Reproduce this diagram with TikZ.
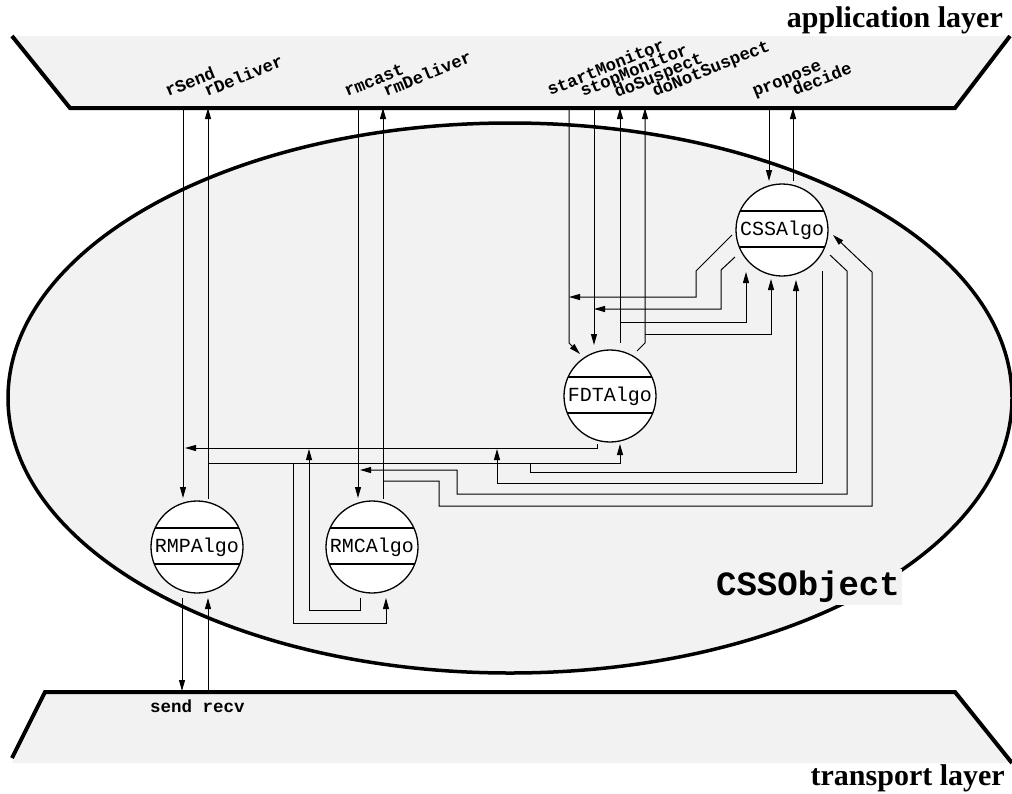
\documentclass[tikz,border=0pt]{standalone}
\usepackage{fontspec}
\newfontfamily\monof{Liberation Mono}
\newfontfamily\seriff{Liberation Serif}
\usetikzlibrary{arrows.meta,calc}
\definecolor{layergray}{RGB}{242,242,242}
\begin{document}
\begin{tikzpicture}[x=1pt,y=-1pt,
  conn/.style={line width=1pt,black},
  arr/.style={conn,-{Triangle[length=11pt,width=6pt]}},
  layer/.style={line width=4pt, line join=miter},
  algo/.style={circle, draw, line width=1.3pt, fill=white, minimum size=92pt, inner sep=0pt,
    font=\monof\fontsize{20}{24}\selectfont,
    path picture={
      \draw[line width=1.2pt] ([yshift=19pt]path picture bounding box.west) -- ([yshift=19pt]path picture bounding box.east);
      \draw[line width=1.2pt] ([yshift=-17pt]path picture bounding box.west) -- ([yshift=-17pt]path picture bounding box.east);}},
  lbl/.style={font=\monof\bfseries\fontsize{17.3}{19}\selectfont, inner sep=0pt, rotate=22, anchor=base west},
  title/.style={font=\seriff\bfseries\fontsize{30}{34}\selectfont, inner sep=0pt, anchor=base east}]
\useasboundingbox (0,0) rectangle (1012,793);

% layers
\fill[layergray] (12,36) -- (1010,36) -- (955,108) -- (70,108) -- cycle;
\draw[layer] (12,36) -- (70,108) -- (955,108) -- (1010,36);
\fill[layergray] (45,692) -- (955,692) -- (1012,763) -- (12,763) -- cycle;
\draw[layer] (12,758) -- (45,692) -- (955,692) -- (1012,763);
\node[title] (app) at (1003,27) {application layer};
\node[title] (trans) at (1005,785) {transport layer};

% object
\draw[line width=3.5pt, fill=layergray] (510,398) ellipse [x radius=502pt, y radius=275pt];
\node[fill=layergray, font=\monof\bfseries\fontsize{34}{40}\selectfont, inner sep=2pt] (cssobj) at (808,587) {CSSObject};

% algorithms
\node[algo] (css) at (782,230) {CSSAlgo};
\node[algo] (fdt) at (610,396) {FDTAlgo};
\node[algo] (rmp) at (197,547) {RMPAlgo};
\node[algo] (rmc) at (372,547) {RMCAlgo};

% interface points
\coordinate (uRsend) at (183,108);
\coordinate (uRdeliver) at (208,108);
\coordinate (uRmcast) at (358,108);
\coordinate (uRmdeliver) at (383,108);
\coordinate (uStart) at (569,108);
\coordinate (uStop) at (594,108);
\coordinate (uDoS) at (620,108);
\coordinate (uDoNot) at (645,108);
\coordinate (uPropose) at (769,108);
\coordinate (uDecide) at (793,108);
\coordinate (lSend) at (182,691);
\coordinate (lRecv) at (208,693);

% labels
\node[lbl] (tRsend) at (168,97) {rSend};
\node[lbl] (tRdeliver) at (207,97) {rDeliver};
\node[lbl] (tRmcast) at (347,97) {rmcast};
\node[lbl] (tRmdeliver) at (386,97) {rmDeliver};
\node[lbl] (tStart) at (550,96) {startMonitor};
\node[lbl] (tStop) at (583,97) {stopMonitor};
\node[lbl] (tDoS) at (617,98) {doSuspect};
\node[lbl] (tDoNot) at (655,97) {doNotSuspect};
\node[lbl] (tPropose) at (755,97) {propose};
\node[lbl] (tDecide) at (795,96) {decide};
\node[font=\monof\bfseries\fontsize{17.5}{20}\selectfont, inner sep=0pt, anchor=base west] (tSendRecv) at (150,712) {send recv};

% application layer <-> algorithms
\draw[arr] (uRsend) -- ($(rmp)+(-14,-49)$);
\draw[arr] ($(rmp)+(11,-48)$) -- (uRdeliver);
\draw[arr] (uRmcast) -- ($(rmc)+(-14,-49)$);
\draw[arr] ($(rmc)+(11,-48)$) -- (uRmdeliver);
\draw[arr] (uStart) -- ($(fdt)+(-41,-53)$) -- ($(fdt)+(-30,-42)$);
\draw[arr] (uStop) -- ($(fdt)+(-16,-51)$);
\draw[arr] ($(fdt)+(10,-53)$) -- (uDoS);
\draw[arr] ($(fdt)+(27,-45)$) -- ($(fdt)+(35,-53)$) -- (uDoNot);
\draw[arr] (uPropose) -- ($(css)+(-13,-49)$);
\draw[arr] ($(css)+(11,-49)$) -- (uDecide);

% CSSAlgo <-> failure detector interface
\draw[arr] ($(css)+(-50,5)$) -- (696,271) -- (696,297) -- (569,297);
\draw[arr] ($(css)+(-47,27)$) -- (721,270) -- (721,309) -- (594,309);
\draw[arr] (620,322) -- (746,322) -- ($(css)+(-36,42)$);
\draw[arr] (645,334) -- (771,334) -- ($(css)+(-11,49)$);

% rDeliver branches
\draw[arr] (208,463) -- (620,463) -- ($(fdt)+(10,48)$);
\draw[arr] (530,463) -- (530,472) -- (796,472) -- ($(css)+(14,50)$);
\draw[arr] (293,463) -- (293,623) -- (386,623) -- ($(rmc)+(14,51)$);

% to rSend
\draw[arr] ($(fdt)+(-13,48)$) -- (597,448) -- (185,448);
\draw[arr] ($(css)+(40,41)$) -- (822,483) -- (497,483) -- (497,449);
\draw[arr] ($(rmc)+(-12,51)$) -- (360,610) -- (309,610) -- (309,449);

% to rmcast / from rmDeliver
\draw[arr] ($(css)+(48,25)$) -- (847,271) -- (847,494) -- (457,494) -- (457,470) -- (360,470);
\draw[arr] (383,481) -- (439,481) -- (439,506) -- (872,506) -- (872,272) -- ($(css)+(51,5)$);

% transport layer
\draw[arr] ($(rmp)+(-15,51)$) -- (lSend);
\draw[arr] (lRecv) -- ($(rmp)+(11,51)$);
\end{tikzpicture}
\end{document}
